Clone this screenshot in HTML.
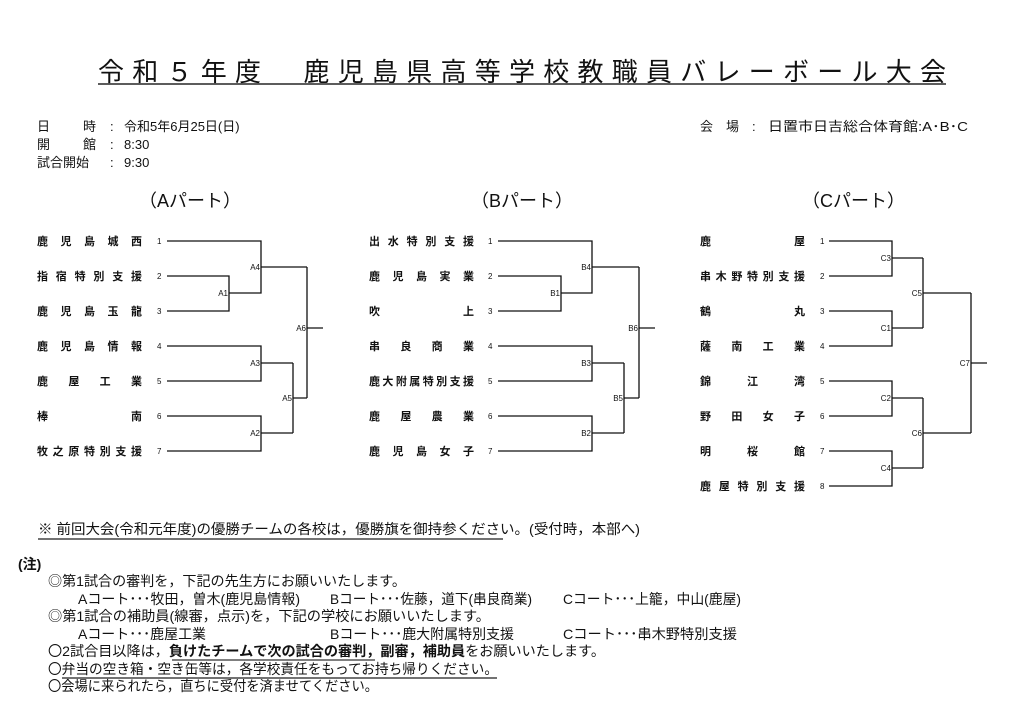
<!DOCTYPE html>
<html><head><meta charset="utf-8"><style>
html,body{margin:0;padding:0;background:#fff;width:1024px;height:724px;overflow:hidden}
svg{display:block}
text{font-family:"Liberation Sans","Noto Sans CJK JP",sans-serif;fill:#111}
.n{font-size:11px;font-weight:bold}
.num{font-size:8px}
.lb{font-size:8px;text-anchor:end}
.t{font-size:13px}
.u{font-size:14px}
.p{font-size:18px}
path{fill:none;stroke:#111;stroke-width:1.3}
</style></head><body>
<svg width="1024" height="724" viewBox="0 0 1024 724">
<text x="98" y="81" font-size="26" textLength="848" lengthAdjust="spacing">令和５年度　鹿児島県高等学校教職員バレーボール大会</text>
<line x1="98" y1="84" x2="946" y2="84" stroke="#444" stroke-width="1.8"/>
<text class="t" x="37" y="131">日</text><text class="t" x="83" y="131">時</text><text class="t" x="110" y="131">:</text><text class="t" x="124" y="131">令和5年6月25日(日)</text>
<text class="t" x="37" y="149">開</text><text class="t" x="83" y="149">館</text><text class="t" x="110" y="149">:</text><text class="t" x="124" y="149">8:30</text>
<text class="t" x="37" y="167">試合開始</text><text class="t" x="110" y="167">:</text><text class="t" x="124" y="167">9:30</text>
<text class="t" x="700" y="131">会</text><text class="t" x="726" y="131">場</text><text class="t" x="752" y="131">:</text><text class="t" x="768" y="131" textLength="200" lengthAdjust="spacingAndGlyphs">日置市日吉総合体育館:A･B･C</text>
<text class="p" x="139" y="207">（Aパート）</text>
<text class="p" x="471" y="207">（Bパート）</text>
<text class="p" x="802" y="207">（Cパート）</text>

<g>
<text class="n" x="37" y="245" textLength="105" lengthAdjust="spacing">鹿児島城西</text>
<text class="n" x="37" y="280" textLength="105" lengthAdjust="spacing">指宿特別支援</text>
<text class="n" x="37" y="315" textLength="105" lengthAdjust="spacing">鹿児島玉龍</text>
<text class="n" x="37" y="350" textLength="105" lengthAdjust="spacing">鹿児島情報</text>
<text class="n" x="37" y="385" textLength="105" lengthAdjust="spacing">鹿屋工業</text>
<text class="n" x="37" y="420" textLength="105" lengthAdjust="spacing">棒南</text>
<text class="n" x="37" y="455" textLength="105" lengthAdjust="spacing">牧之原特別支援</text>
<text class="num" x="157" y="244">1</text><text class="num" x="157" y="279">2</text><text class="num" x="157" y="314">3</text><text class="num" x="157" y="349">4</text><text class="num" x="157" y="384">5</text><text class="num" x="157" y="419">6</text><text class="num" x="157" y="454">7</text>
<path d="M167 241H261V293H229M167 276H229V311H167M261 267H307M167 346H261V381H167M261 363H293M167 416H261V451H167M261 433H293M293 363V433M293 398H307M307 267V398M307 328H323"/>
<text class="lb" x="228" y="296">A1</text><text class="lb" x="260" y="270">A4</text><text class="lb" x="260" y="366">A3</text><text class="lb" x="260" y="436">A2</text><text class="lb" x="292" y="401">A5</text><text class="lb" x="306" y="331">A6</text>
</g>
<g>
<text class="n" x="369" y="245" textLength="105" lengthAdjust="spacing">出水特別支援</text>
<text class="n" x="369" y="280" textLength="105" lengthAdjust="spacing">鹿児島実業</text>
<text class="n" x="369" y="315" textLength="105" lengthAdjust="spacing">吹上</text>
<text class="n" x="369" y="350" textLength="105" lengthAdjust="spacing">串良商業</text>
<text class="n" x="369" y="385" textLength="105" lengthAdjust="spacing">鹿大附属特別支援</text>
<text class="n" x="369" y="420" textLength="105" lengthAdjust="spacing">鹿屋農業</text>
<text class="n" x="369" y="455" textLength="105" lengthAdjust="spacing">鹿児島女子</text>
<text class="num" x="488" y="244">1</text><text class="num" x="488" y="279">2</text><text class="num" x="488" y="314">3</text><text class="num" x="488" y="349">4</text><text class="num" x="488" y="384">5</text><text class="num" x="488" y="419">6</text><text class="num" x="488" y="454">7</text>
<path d="M498 241H592V293H561M498 276H561V311H498M592 267H639M498 346H592V381H498M592 363H624M498 416H592V451H498M592 433H624M624 363V433M624 398H639M639 267V398M639 328H655"/>
<text class="lb" x="560" y="296">B1</text><text class="lb" x="591" y="270">B4</text><text class="lb" x="591" y="366">B3</text><text class="lb" x="591" y="436">B2</text><text class="lb" x="623" y="401">B5</text><text class="lb" x="638" y="331">B6</text>
</g>
<g>
<text class="n" x="700" y="245" textLength="105" lengthAdjust="spacing">鹿屋</text>
<text class="n" x="700" y="280" textLength="105" lengthAdjust="spacing">串木野特別支援</text>
<text class="n" x="700" y="315" textLength="105" lengthAdjust="spacing">鶴丸</text>
<text class="n" x="700" y="350" textLength="105" lengthAdjust="spacing">薩南工業</text>
<text class="n" x="700" y="385" textLength="105" lengthAdjust="spacing">錦江湾</text>
<text class="n" x="700" y="420" textLength="105" lengthAdjust="spacing">野田女子</text>
<text class="n" x="700" y="455" textLength="105" lengthAdjust="spacing">明桜館</text>
<text class="n" x="700" y="490" textLength="105" lengthAdjust="spacing">鹿屋特別支援</text>
<text class="num" x="820" y="244">1</text><text class="num" x="820" y="279">2</text><text class="num" x="820" y="314">3</text><text class="num" x="820" y="349">4</text><text class="num" x="820" y="384">5</text><text class="num" x="820" y="419">6</text><text class="num" x="820" y="454">7</text><text class="num" x="820" y="489">8</text>
<path d="M829 241H892V276H829M892 258H923M829 311H892V346H829M892 328H923M923 258V328M923 293H971M829 381H892V416H829M892 398H923M829 451H892V486H829M892 468H923M923 398V468M923 433H971M971 293V433M971 363H987"/>
<text class="lb" x="891" y="261">C3</text><text class="lb" x="891" y="331">C1</text><text class="lb" x="891" y="401">C2</text><text class="lb" x="891" y="471">C4</text><text class="lb" x="922" y="296">C5</text><text class="lb" x="922" y="436">C6</text><text class="lb" x="970" y="366">C7</text>
</g>

<text class="u" x="38" y="534" textLength="602" lengthAdjust="spacingAndGlyphs">※ 前回大会(令和元年度)の優勝チームの各校は，優勝旗を御持参ください。(受付時，本部へ)</text>
<line x1="38" y1="539" x2="503" y2="539" stroke="#444" stroke-width="1.5"/>
<text class="u" x="18" y="569" font-weight="bold">(注)</text>
<text class="u" x="48" y="586" textLength="358" lengthAdjust="spacingAndGlyphs">◎第1試合の審判を，下記の先生方にお願いいたします。</text>
<text class="u" x="78" y="604" textLength="222" lengthAdjust="spacingAndGlyphs">Aコート･･･牧田，曽木(鹿児島情報)</text>
<text class="u" x="330" y="604" textLength="202" lengthAdjust="spacingAndGlyphs">Bコート･･･佐藤，道下(串良商業)</text>
<text class="u" x="563" y="604" textLength="178" lengthAdjust="spacingAndGlyphs">Cコート･･･上籠，中山(鹿屋)</text>
<text class="u" x="48" y="621" textLength="442" lengthAdjust="spacingAndGlyphs">◎第1試合の補助員(線審，点示)を，下記の学校にお願いいたします。</text>
<text class="u" x="78" y="639" textLength="128" lengthAdjust="spacingAndGlyphs">Aコート･･･鹿屋工業</text>
<text class="u" x="330" y="639" textLength="184" lengthAdjust="spacingAndGlyphs">Bコート･･･鹿大附属特別支援</text>
<text class="u" x="563" y="639" textLength="174" lengthAdjust="spacingAndGlyphs">Cコート･･･串木野特別支援</text>
<text class="u" x="48" y="656" textLength="557" lengthAdjust="spacingAndGlyphs">〇2試合目以降は，<tspan font-weight="bold">負けたチームで次の試合の審判，副審，補助員</tspan>をお願いいたします。</text>
<line x1="172" y1="660" x2="375" y2="660" stroke="#333" stroke-width="1.3"/>
<text class="u" x="48" y="674" textLength="450" lengthAdjust="spacingAndGlyphs">〇弁当の空き箱・空き缶等は，各学校責任をもってお持ち帰りください。</text>
<line x1="62" y1="678" x2="497" y2="678" stroke="#444" stroke-width="1.5"/>
<text class="u" x="48" y="691" textLength="330" lengthAdjust="spacingAndGlyphs">〇会場に来られたら，直ちに受付を済ませてください。</text>
</svg>
</body></html>
